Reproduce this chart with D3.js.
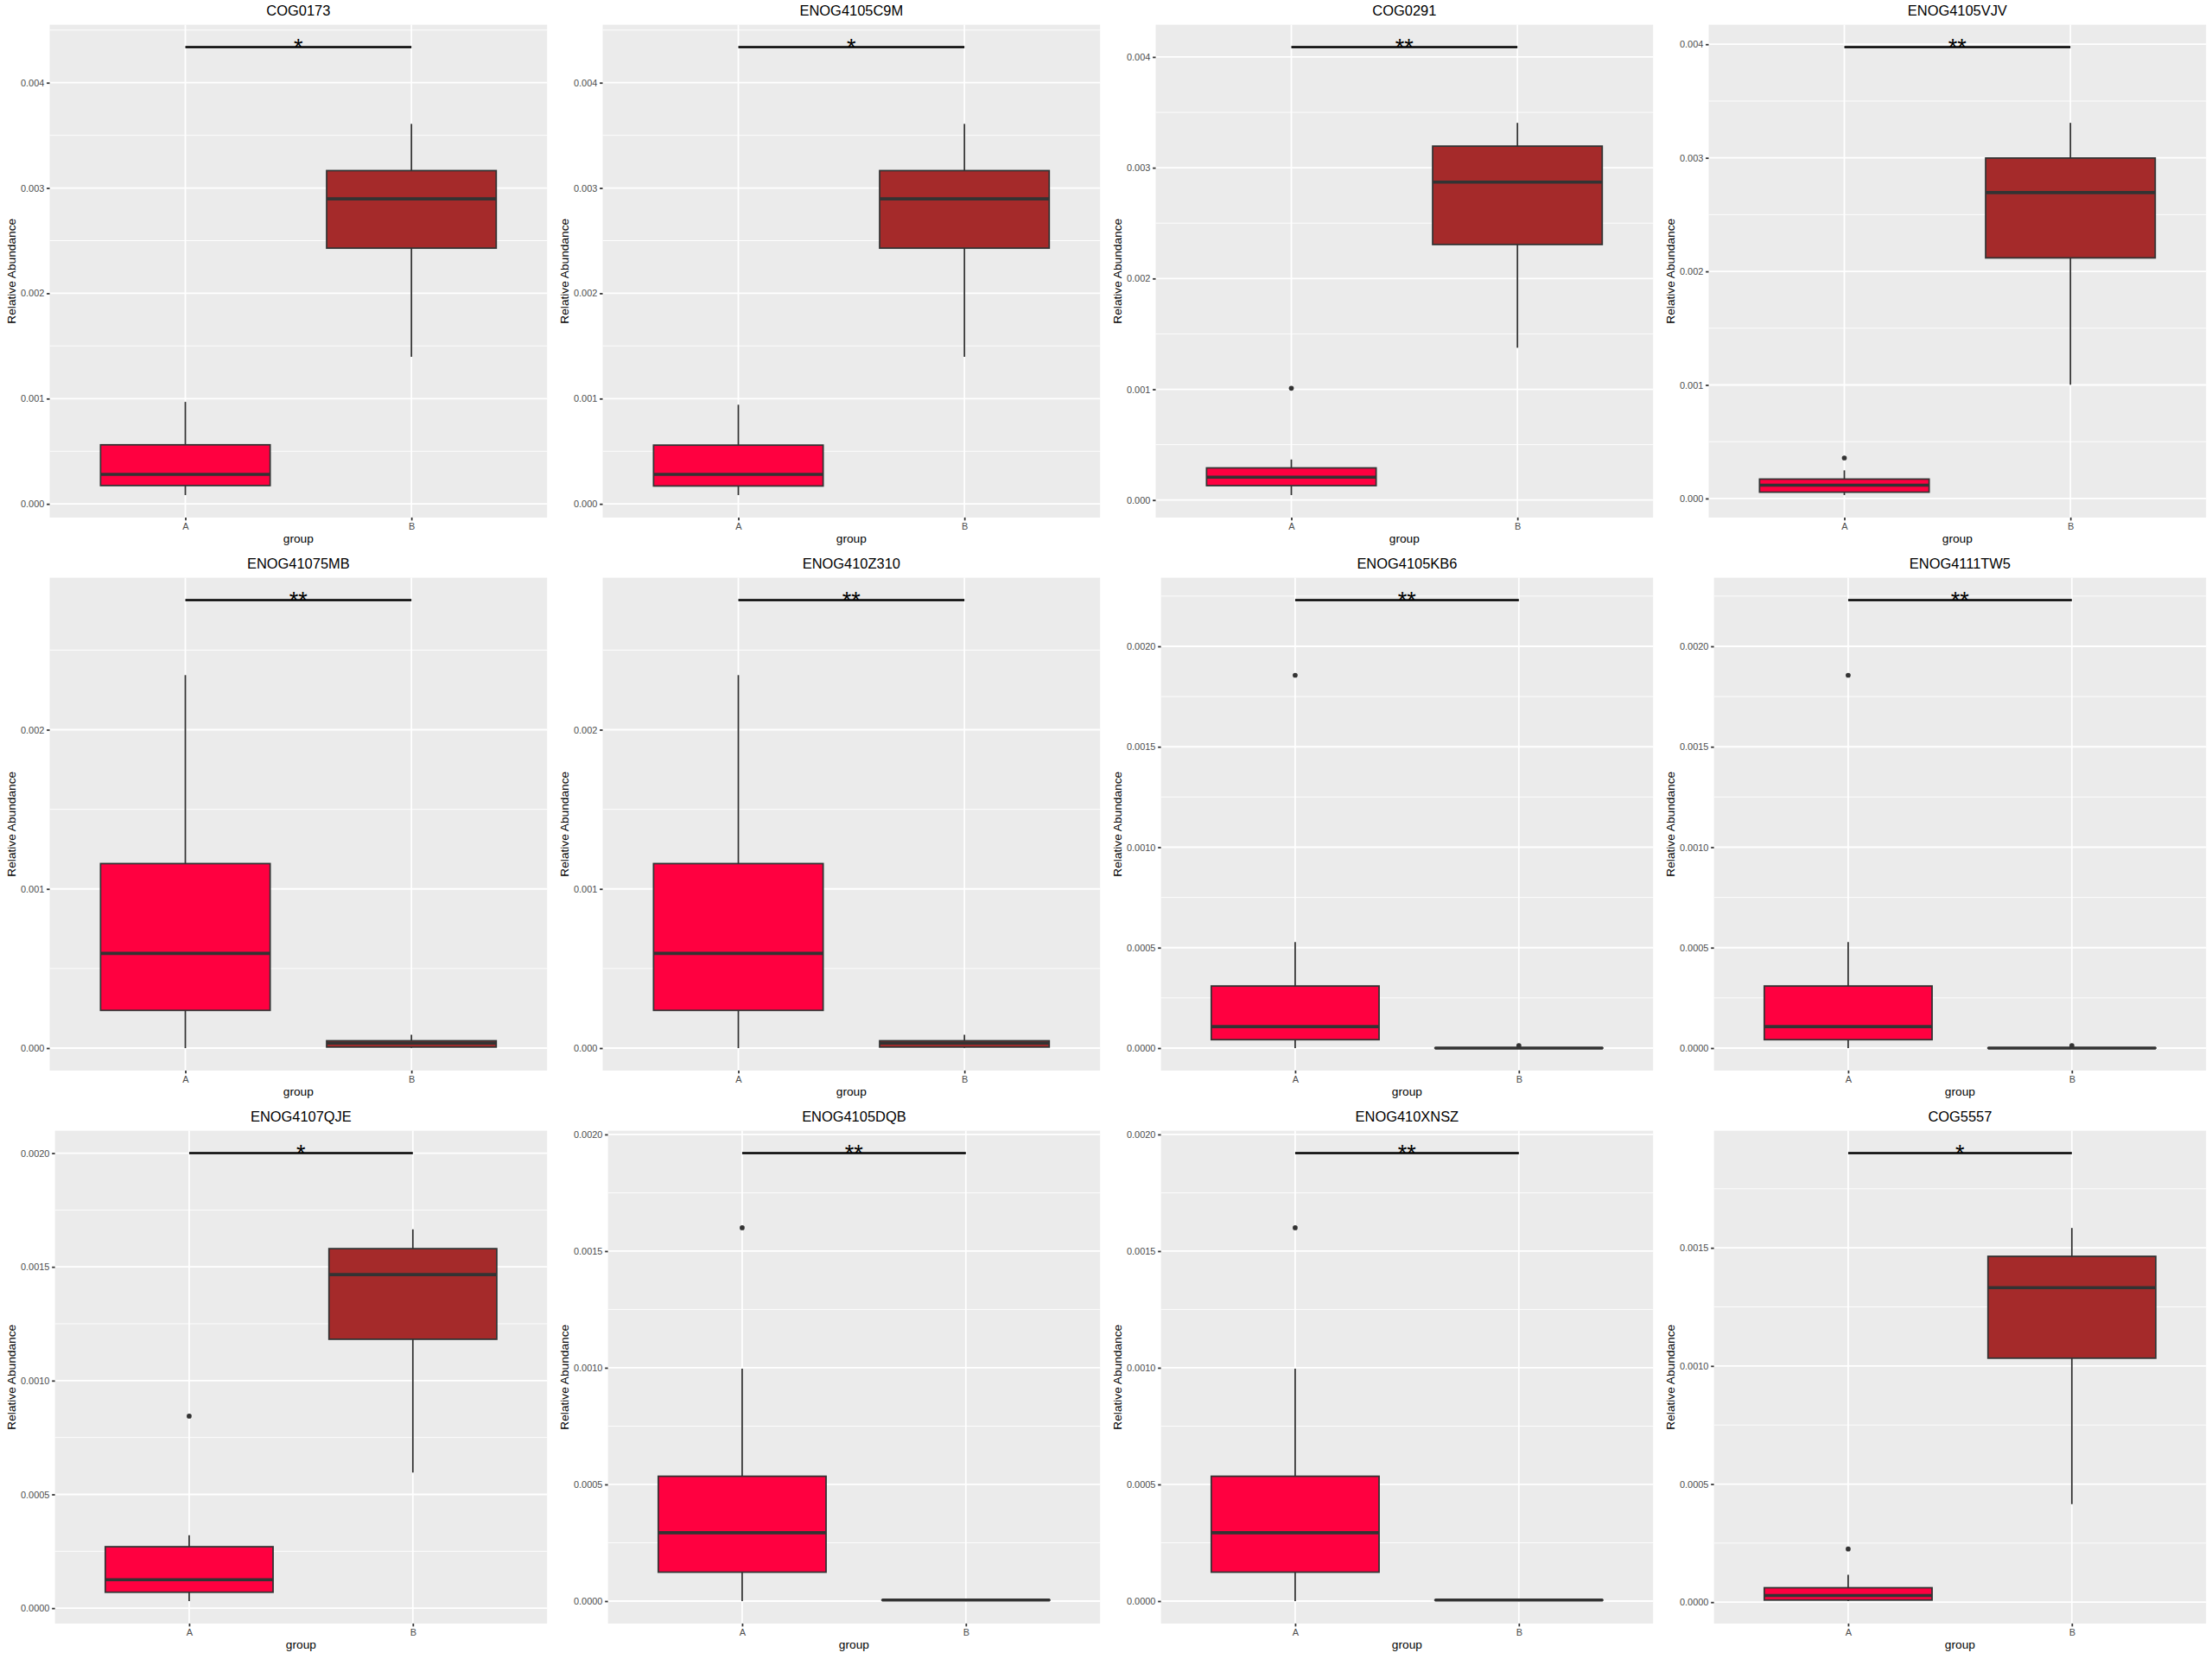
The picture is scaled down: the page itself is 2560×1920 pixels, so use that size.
<!DOCTYPE html>
<html>
<head>
<meta charset="utf-8">
<script src="https://cdn.jsdelivr.net/npm/d3@7"></script>
<style>
  body { margin: 0; background: #fff; }
  svg { display: block; }
  text { font-family: "Liberation Sans", Arial, Helvetica, sans-serif; }
</style>
</head>
<body>
<svg id="chart" width="2560" height="1920"></svg>
<script>
// ---- data ----
const groups = ["A", "B"];

const titles = ["COG0173", "ENOG4105C9M", "COG0291", "ENOG4105VJV",
                "ENOG41075MB", "ENOG410Z310", "ENOG4105KB6", "ENOG4111TW5",
                "ENOG4107QJE", "ENOG4105DQB", "ENOG410XNSZ", "COG5557"];

const signif = ["*", "*", "**", "**", "**", "**", "**", "**", "*", "**", "**", "*"];

const barY = [0.004338, 0.004338, 0.004089, 0.003975,
              0.002814, 0.002814, 0.00223, 0.00223,
              0.0020, 0.00192, 0.00192, 0.001901];

const ticks3 = ["0.000", "0.001", "0.002", "0.003", "0.004"];
const ticks2 = ["0.000", "0.001", "0.002"];
const ticks4 = ["0.0000", "0.0005", "0.0010", "0.0015", "0.0020"];
const ticks4b = ["0.0000", "0.0005", "0.0010", "0.0015"];
const tickLabels = [ticks3, ticks3, ticks3, ticks3,
                    ticks2, ticks2, ticks4, ticks4,
                    ticks4, ticks4, ticks4, ticks4b];

// [lower whisker, Q1, median, Q3, upper whisker]
const aStats = [
  [0.0000835, 0.000174, 0.000281, 0.000561, 0.000969],
  [0.0000835, 0.000170, 0.000281, 0.000558, 0.000942],
  [0.0000446, 0.000130, 0.000207, 0.000290, 0.000366],
  [0.000030, 0.000056, 0.000118, 0.000171, 0.000248],
  [0.0, 0.000237, 0.000595, 0.001159, 0.002343],
  [0.0, 0.000237, 0.000595, 0.001159, 0.002343],
  [0.0, 0.000042, 0.000107, 0.000309, 0.000528],
  [0.0, 0.000042, 0.000107, 0.000309, 0.000528],
  [0.000031, 0.000070, 0.000125, 0.000270, 0.000321],
  [0.0, 0.000124, 0.000293, 0.000535, 0.000996],
  [0.0, 0.000124, 0.000293, 0.000535, 0.000996],
  [0.0000045, 0.000009, 0.000028, 0.000061, 0.000116]
];
const aOutliers = [[], [], [0.001009], [0.000357], [], [], [0.001856], [0.001856],
                   [0.000844], [0.0016], [0.0016], [0.000225]];

const bStats = [
  [0.001397, 0.002429, 0.002897, 0.003165, 0.003609],
  [0.001397, 0.002429, 0.002897, 0.003165, 0.003609],
  [0.001375, 0.002307, 0.002870, 0.003195, 0.003405],
  [0.001002, 0.002119, 0.002694, 0.002998, 0.003308],
  [0.000002, 0.0000066, 0.000031, 0.000046, 0.000084],
  [0.000002, 0.0000066, 0.000031, 0.000046, 0.000084],
  [0.0, 0.0, 0.0, 0.000001, 0.000001],
  [0.0, 0.0, 0.0, 0.000001, 0.000001],
  [0.000596, 0.001182, 0.001466, 0.001580, 0.001665],
  [0.000003, 0.000004, 0.0000045, 0.000005, 0.000006],
  [0.000003, 0.000004, 0.0000045, 0.000005, 0.000006],
  [0.000415, 0.001033, 0.001331, 0.001464, 0.001584]
];
const bOutliers = [[], [], [], [], [], [], [0.0000123], [0.0000123], [], [], [], []];

// ---- styling ----
const fills = ["#FF0040", "#A52A2A"];
const pt = 1.245;                // px per pt
const panelW = 640, panelH = 640, nCols = 4;
const plotMargin = 5.5 * pt;
const tickLen = 2.75 * pt;
const tickGap = 2.2 * pt;
const titleGap = 2.75 * pt;
const axisTitleSize = 11 * pt;
const tickSize = 8.8 * pt;
const titleSize = 13.2 * pt;
const lineW = 0.5 * 2.845 * pt;  // 0.5 mm

const svg = d3.select("#chart");

// text width helper
const measure = svg.append("text").attr("font-size", tickSize).attr("visibility", "hidden");
function textWidth(s) { measure.text(s); return measure.node().getComputedTextLength(); }

titles.forEach((title, i) => {
  const col = i % nCols, row = Math.floor(i / nCols);
  const g = svg.append("g").attr("transform", `translate(${col * panelW},${row * panelH})`);

  const labels = tickLabels[i];
  const tickVals = labels.map(Number);
  const labelW = d3.max(labels, textWidth);

  const left = plotMargin + axisTitleSize + titleGap + labelW + tickGap + tickLen;
  const right = panelW - plotMargin;
  const top = 28.6;
  const bottom = panelH - plotMargin - axisTitleSize - titleGap - tickSize - tickGap - tickLen;

  // y domain: all drawn values plus the significance bar, expanded 5%
  const vals = [...aStats[i], ...bStats[i], ...aOutliers[i], ...bOutliers[i], barY[i]];
  const lo = d3.min(vals), hi = d3.max(vals), pad = (hi - lo) * 0.05;
  const y = d3.scaleLinear().domain([lo - pad, hi + pad]).range([bottom, top]);
  const x = d3.scalePoint().domain(groups).range([left, right]).padding(0.6);
  const boxW = x.step() * 0.75;

  // panel background
  g.append("rect").attr("x", left).attr("y", top)
    .attr("width", right - left).attr("height", bottom - top).attr("fill", "#EBEBEB");

  // minor gridlines
  const step = tickVals[1] - tickVals[0];
  const minor = [];
  for (let v = tickVals[0] - step / 2; v <= y.domain()[1] + 1e-12; v += step) {
    if (v >= y.domain()[0]) minor.push(v);
  }
  g.append("g").selectAll("line").data(minor).join("line")
    .attr("x1", left).attr("x2", right)
    .attr("y1", d => y(d)).attr("y2", d => y(d))
    .attr("stroke", "#fff").attr("stroke-width", lineW / 2);

  // major gridlines
  g.append("g").selectAll("line").data(tickVals).join("line")
    .attr("x1", left).attr("x2", right)
    .attr("y1", d => y(d)).attr("y2", d => y(d))
    .attr("stroke", "#fff").attr("stroke-width", lineW);
  g.append("g").selectAll("line").data(groups).join("line")
    .attr("x1", d => x(d)).attr("x2", d => x(d))
    .attr("y1", top).attr("y2", bottom)
    .attr("stroke", "#fff").attr("stroke-width", lineW);

  // axes
  const yAxis = d3.axisLeft(y).tickValues(tickVals).tickFormat((d, k) => labels[k])
    .tickSize(tickLen).tickPadding(tickGap);
  const ya = g.append("g").attr("transform", `translate(${left},0)`).call(yAxis);
  const xAxis = d3.axisBottom(x).tickSize(tickLen).tickPadding(tickGap);
  const xa = g.append("g").attr("transform", `translate(0,${bottom})`).call(xAxis);
  [ya, xa].forEach(a => {
    a.select(".domain").remove();
    a.selectAll(".tick line").attr("stroke", "#333333").attr("stroke-width", lineW);
    a.selectAll(".tick text").attr("fill", "#4D4D4D").attr("font-size", tickSize)
      .style("font-family", "'Liberation Sans', Arial, sans-serif");
  });
  xa.selectAll(".tick text").attr("dy", "0.71em");

  // boxplots
  const stats = [aStats[i], bStats[i]];
  const outs = [aOutliers[i], bOutliers[i]];
  groups.forEach((grp, k) => {
    const [wl, q1, med, q3, wh] = stats[k];
    const cx = x(grp);
    const bg = g.append("g");
    bg.append("line").attr("x1", cx).attr("x2", cx).attr("y1", y(wh)).attr("y2", y(q3))
      .attr("stroke", "#333333").attr("stroke-width", lineW);
    bg.append("line").attr("x1", cx).attr("x2", cx).attr("y1", y(q1)).attr("y2", y(wl))
      .attr("stroke", "#333333").attr("stroke-width", lineW);
    bg.append("rect").attr("x", cx - boxW / 2).attr("width", boxW)
      .attr("y", y(q3)).attr("height", Math.max(0, y(q1) - y(q3)))
      .attr("fill", fills[k]).attr("stroke", "#333333").attr("stroke-width", lineW);
    bg.append("line").attr("x1", cx - boxW / 2).attr("x2", cx + boxW / 2)
      .attr("y1", y(med)).attr("y2", y(med))
      .attr("stroke", "#333333").attr("stroke-width", lineW * 2);
    bg.selectAll("circle").data(outs[k]).join("circle")
      .attr("cx", cx).attr("cy", d => y(d)).attr("r", 2.85).attr("fill", "#333333");
  });

  // significance bar
  g.append("line").attr("x1", x("A")).attr("x2", x("B"))
    .attr("y1", y(barY[i])).attr("y2", y(barY[i]))
    .attr("stroke", "#000").attr("stroke-width", 2.4);
  g.append("text").attr("x", (x("A") + x("B")) / 2).attr("y", y(barY[i]) + 9.5)
    .attr("text-anchor", "middle").attr("font-size", 27).attr("fill", "#000")
    .text(signif[i]);

  // titles
  g.append("text").attr("x", (left + right) / 2).attr("y", 18)
    .attr("text-anchor", "middle").attr("font-size", titleSize).attr("fill", "#000")
    .text(title);
  g.append("text").attr("x", (left + right) / 2).attr("y", 627.5)
    .attr("text-anchor", "middle").attr("font-size", axisTitleSize).attr("fill", "#000")
    .text("group");
  g.append("text")
    .attr("transform", `translate(18,${(top + bottom) / 2}) rotate(-90)`)
    .attr("text-anchor", "middle").attr("font-size", axisTitleSize).attr("fill", "#000")
    .text("Relative Abundance");
});

measure.remove();
</script>
</body>
</html>
